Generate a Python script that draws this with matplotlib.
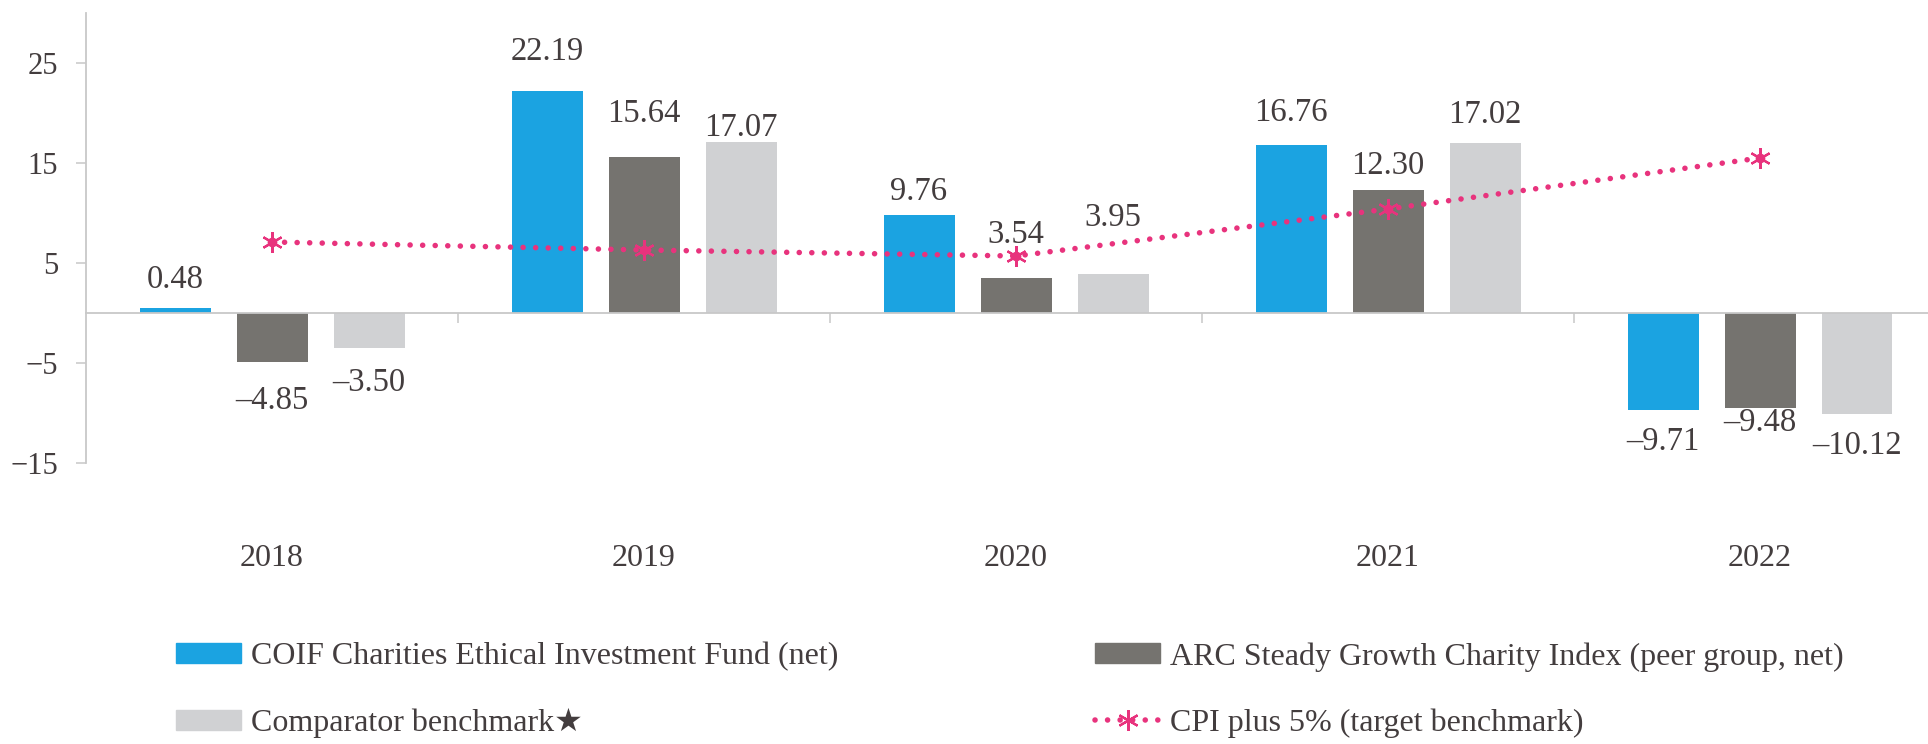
import matplotlib.pyplot as plt
from matplotlib.lines import Line2D
from matplotlib.patches import Patch
import matplotlib.transforms as mtransforms
import numpy as np

years = ['2018', '2019', '2020', '2021', '2022']
coif = [0.48, 22.19, 9.76, 16.76, -9.71]  # COIF Charities Ethical Investment Fund (net)
arc = [-4.85, 15.64, 3.54, 12.30, -9.48]  # ARC Steady Growth Charity Index
comparator = [-3.50, 17.07, 3.95, 17.02, -10.12]  # Comparator benchmark
cpi = [7.1, 6.3, 5.7, 10.4, 15.5]  # CPI plus 5%

names = ['COIF Charities Ethical Investment Fund (net)',
         'ARC Steady Growth Charity Index (peer group, net)',
         'Comparator benchmark\u2605',
         'CPI plus 5% (target benchmark)']

# label gaps (pixels between bar end and label centre), as placed in the original
gaps = [[28, 39, 24, 33, 32],
        [39, 43, 43, 24, 15],
        [35, 15, 56, 28, 32]]

blue = '#1ba3e1'
dark = '#75736f'
light = '#d0d1d3'
pink = '#e8337d'
txt = '#433d3e'
axcol = '#c8c8c8'

plt.rcParams['font.family'] = ['Liberation Serif', 'DejaVu Serif', 'DejaVu Sans']

fig = plt.figure(figsize=(19.28, 7.44), dpi=100)
ax = fig.add_axes([86/1928, 1 - 463/744, 1 - 86/1928, 450/744])

x = np.arange(len(years))
off = 97/372
w = 71/372
series = [coif, arc, comparator]
cols = [blue, dark, light]
for k, (vals, c) in enumerate(zip(series, cols)):
    xs = x + (k - 1)*off
    ax.bar(xs, vals, width=w, color=c, zorder=2)
    for xi, v, g in zip(xs, vals, gaps[k]):
        dy = g if v >= 0 else -g
        lab = ('%.2f' % v).replace('-', '\u2013')
        ax.annotate(lab, (xi, v), xytext=(0, dy), textcoords='offset pixels',
                    ha='center', va='center', fontsize=23.5, color=txt, zorder=4)

dots = (0, (0.01, 2.25))
ax.plot(x, cpi, color=pink, lw=4, linestyle=dots,
        dash_capstyle='round', marker=(6, 2, 0), markersize=15,
        markeredgewidth=1.6, zorder=3)
ax.plot(x, cpi, ls='none', marker='o', markersize=6, color=pink, zorder=3)

ax.set_ylim(-15, 30)
ax.set_xlim(-0.5, (1928 - 86)/372 - 0.5)
ax.set_yticks([-15, -5, 5, 15, 25])
ax.set_xticks([0.5, 1.5, 2.5, 3.5])
ax.set_xticklabels([])

for s in ['top', 'right']:
    ax.spines[s].set_visible(False)
ax.spines['bottom'].set_position(('data', 0))
ax.spines['bottom'].set_color(axcol)
ax.spines['left'].set_color(axcol)
ax.spines['bottom'].set_linewidth(1.3)
ax.spines['left'].set_linewidth(1.3)
ax.tick_params(axis='y', length=7, color=axcol, width=1.1, pad=13, labelsize=22, labelcolor=txt)
ax.tick_params(axis='x', length=7, color=axcol, width=1.1, direction='out')

trans = mtransforms.blended_transform_factory(ax.transData, ax.transAxes)
for xi, yr in zip(x, years):
    ax.annotate(yr, (xi, 0), xycoords=trans, xytext=(0, -95), textcoords='offset pixels',
                ha='center', va='center', fontsize=23, color=txt)

h_coif = Patch(color=blue)
h_arc = Patch(color=dark)
h_comp = Patch(color=light)
h_cpi = Line2D([], [], color=pink, lw=4, linestyle=dots,
               dash_capstyle='round', marker=(6, 2, 0), markersize=15, markeredgewidth=1.6)

legkw = dict(loc='center left', frameon=False, fontsize=23, labelcolor=txt,
             handlelength=2.05, handleheight=0.58, handletextpad=0.3,
             labelspacing=1.15, borderpad=0, borderaxespad=0)
fig.legend([h_coif, h_comp], [names[0], names[2]],
           bbox_to_anchor=(176/1928, 1 - 690/744), **legkw)
fig.legend([h_arc, h_cpi], [names[1], names[3]],
           bbox_to_anchor=(1095/1928, 1 - 690/744), **legkw)

fig.savefig('out.png', dpi=100)
